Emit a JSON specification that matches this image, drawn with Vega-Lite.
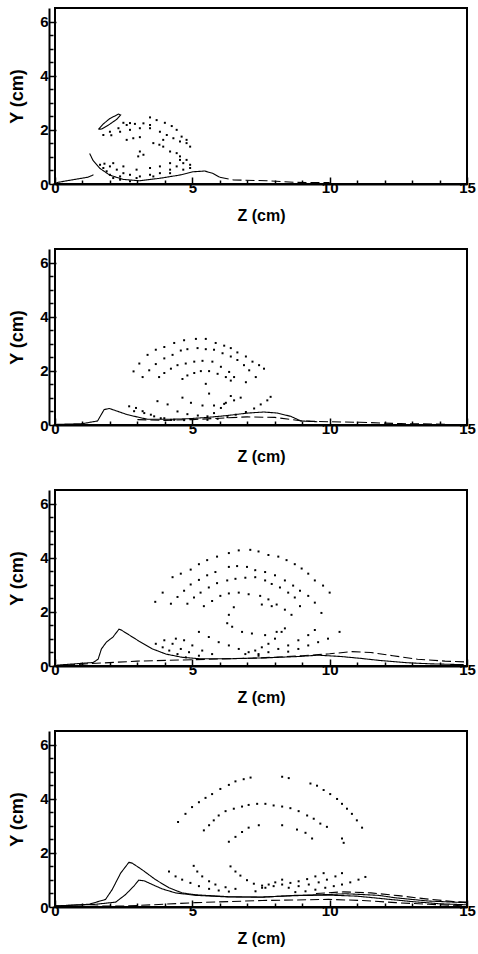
{
  "$schema": "https://vega.github.io/schema/vega-lite/v6.json",
  "padding": {"top": 7, "left": 8, "right": 2, "bottom": 2},
  "background": "white",
  "data": {"values": [
    {"panel":1,"kind":"label","text":"X=66 cm"},
    {"panel":2,"kind":"label","text":"X=97 cm"},
    {"panel":3,"kind":"label","text":"X=142 cm"},
    {"panel":4,"kind":"label","text":"X=188 cm"},

    {"panel":1,"kind":"dot","z":1.76,"y":1.81},{"panel":1,"kind":"dot","z":2.0,"y":1.93},{"panel":1,"kind":"dot","z":2.31,"y":2.06},{"panel":1,"kind":"dot","z":2.61,"y":2.18},{"panel":1,"kind":"dot","z":2.91,"y":2.22},{"panel":1,"kind":"dot","z":3.22,"y":2.24},{"panel":1,"kind":"dot","z":3.46,"y":2.46},{"panel":1,"kind":"dot","z":3.7,"y":2.36},{"panel":1,"kind":"dot","z":4.0,"y":2.26},{"panel":1,"kind":"dot","z":4.25,"y":2.14},{"panel":1,"kind":"dot","z":4.43,"y":2.0},{"panel":1,"kind":"dot","z":4.61,"y":1.75},{"panel":1,"kind":"dot","z":4.79,"y":1.63},{"panel":1,"kind":"dot","z":4.92,"y":1.38},
    {"panel":1,"kind":"dot","z":2.49,"y":2.26},{"panel":1,"kind":"dot","z":2.73,"y":2.25},{"panel":1,"kind":"dot","z":3.46,"y":2.18},
    {"panel":1,"kind":"dot","z":2.05,"y":1.8},{"panel":1,"kind":"dot","z":2.37,"y":1.93},{"panel":1,"kind":"dot","z":2.73,"y":2.0},{"panel":1,"kind":"dot","z":3.09,"y":2.06},{"panel":1,"kind":"dot","z":3.46,"y":2.06},{"panel":1,"kind":"dot","z":3.82,"y":1.93},{"panel":1,"kind":"dot","z":4.07,"y":1.81},{"panel":1,"kind":"dot","z":4.31,"y":1.69},{"panel":1,"kind":"dot","z":4.55,"y":1.57},{"panel":1,"kind":"dot","z":4.79,"y":1.51},
    {"panel":1,"kind":"dot","z":2.61,"y":1.63},{"panel":1,"kind":"dot","z":2.85,"y":1.69},{"panel":1,"kind":"dot","z":3.09,"y":1.73},{"panel":1,"kind":"dot","z":3.58,"y":1.51},{"panel":1,"kind":"dot","z":3.94,"y":1.63},
    {"panel":1,"kind":"dot","z":3.09,"y":1.2},{"panel":1,"kind":"dot","z":3.03,"y":1.02},{"panel":1,"kind":"dot","z":3.22,"y":1.08},
    {"panel":1,"kind":"dot","z":3.8,"y":1.45},{"panel":1,"kind":"dot","z":3.94,"y":1.38},{"panel":1,"kind":"dot","z":4.19,"y":1.2},
    {"panel":1,"kind":"dot","z":1.64,"y":0.71},{"panel":1,"kind":"dot","z":1.76,"y":0.59},{"panel":1,"kind":"dot","z":1.88,"y":0.47},{"panel":1,"kind":"dot","z":2.0,"y":0.34},{"panel":1,"kind":"dot","z":2.12,"y":0.22},{"panel":1,"kind":"dot","z":2.37,"y":0.16},{"panel":1,"kind":"dot","z":2.73,"y":0.1},
    {"panel":1,"kind":"dot","z":1.8,"y":0.75},{"panel":1,"kind":"dot","z":2.0,"y":0.65},{"panel":1,"kind":"dot","z":2.25,"y":0.53},{"panel":1,"kind":"dot","z":2.49,"y":0.4},{"panel":1,"kind":"dot","z":2.73,"y":0.34},{"panel":1,"kind":"dot","z":3.09,"y":0.28},{"panel":1,"kind":"dot","z":3.46,"y":0.34},{"panel":1,"kind":"dot","z":3.82,"y":0.4},{"panel":1,"kind":"dot","z":4.19,"y":0.53},{"panel":1,"kind":"dot","z":4.43,"y":0.65},{"panel":1,"kind":"dot","z":4.67,"y":0.77},{"panel":1,"kind":"dot","z":4.92,"y":0.71},
    {"panel":1,"kind":"dot","z":2.12,"y":0.77},{"panel":1,"kind":"dot","z":2.49,"y":0.65},{"panel":1,"kind":"dot","z":2.97,"y":0.53},{"panel":1,"kind":"dot","z":3.46,"y":0.59},{"panel":1,"kind":"dot","z":3.82,"y":0.65},{"panel":1,"kind":"dot","z":4.19,"y":0.77},{"panel":1,"kind":"dot","z":4.55,"y":0.89},
    {"panel":1,"kind":"dot","z":2.37,"y":0.28},{"panel":1,"kind":"dot","z":2.97,"y":0.22},{"panel":1,"kind":"dot","z":3.58,"y":0.28},{"panel":1,"kind":"dot","z":4.19,"y":0.4},{"panel":1,"kind":"dot","z":4.67,"y":0.53},{"panel":1,"kind":"dot","z":4.92,"y":0.59},
    {"panel":1,"kind":"dot","z":4.43,"y":1.14},{"panel":1,"kind":"dot","z":4.55,"y":1.02},{"panel":1,"kind":"dot","z":4.79,"y":0.89},

    {"panel":1,"kind":"line","series":"1a","dash":"solid","order":1,"z":0.05,"y":0.05},{"panel":1,"kind":"line","series":"1a","dash":"solid","order":2,"z":0.6,"y":0.15},{"panel":1,"kind":"line","series":"1a","dash":"solid","order":3,"z":1.2,"y":0.25},{"panel":1,"kind":"line","series":"1a","dash":"solid","order":4,"z":1.4,"y":0.34},
    {"panel":1,"kind":"line","series":"1b","dash":"solid","order":1,"z":1.26,"y":1.13},{"panel":1,"kind":"line","series":"1b","dash":"solid","order":2,"z":1.38,"y":0.88},{"panel":1,"kind":"line","series":"1b","dash":"solid","order":3,"z":1.63,"y":0.58},{"panel":1,"kind":"line","series":"1b","dash":"solid","order":4,"z":1.99,"y":0.33},{"panel":1,"kind":"line","series":"1b","dash":"solid","order":5,"z":2.48,"y":0.17},{"panel":1,"kind":"line","series":"1b","dash":"solid","order":6,"z":3.08,"y":0.12},{"panel":1,"kind":"line","series":"1b","dash":"solid","order":7,"z":3.81,"y":0.21},{"panel":1,"kind":"line","series":"1b","dash":"solid","order":8,"z":4.54,"y":0.33},{"panel":1,"kind":"line","series":"1b","dash":"solid","order":9,"z":5.02,"y":0.45},{"panel":1,"kind":"line","series":"1b","dash":"solid","order":10,"z":5.45,"y":0.48},{"panel":1,"kind":"line","series":"1b","dash":"solid","order":11,"z":5.75,"y":0.39},{"panel":1,"kind":"line","series":"1b","dash":"solid","order":12,"z":6.0,"y":0.25},
    {"panel":1,"kind":"line","series":"1c","dash":"dashed","order":1,"z":6.0,"y":0.25},{"panel":1,"kind":"line","series":"1c","dash":"dashed","order":2,"z":6.5,"y":0.15},{"panel":1,"kind":"line","series":"1c","dash":"dashed","order":3,"z":7.7,"y":0.12},{"panel":1,"kind":"line","series":"1c","dash":"dashed","order":4,"z":8.8,"y":0.06},{"panel":1,"kind":"line","series":"1c","dash":"dashed","order":5,"z":10.0,"y":0.05},
    {"panel":1,"kind":"line","series":"1d","dash":"solid","order":1,"z":1.58,"y":2.02},{"panel":1,"kind":"line","series":"1d","dash":"solid","order":2,"z":1.76,"y":2.22},{"panel":1,"kind":"line","series":"1d","dash":"solid","order":3,"z":2.0,"y":2.42},{"panel":1,"kind":"line","series":"1d","dash":"solid","order":4,"z":2.31,"y":2.58},{"panel":1,"kind":"line","series":"1d","dash":"solid","order":5,"z":2.39,"y":2.55},{"panel":1,"kind":"line","series":"1d","dash":"solid","order":6,"z":2.25,"y":2.39},{"panel":1,"kind":"line","series":"1d","dash":"solid","order":7,"z":1.98,"y":2.2},{"panel":1,"kind":"line","series":"1d","dash":"solid","order":8,"z":1.7,"y":2.03},{"panel":1,"kind":"line","series":"1d","dash":"solid","order":9,"z":1.58,"y":2.02},

    {"panel":2,"kind":"dot","z":2.86,"y":1.98},{"panel":2,"kind":"dot","z":3.07,"y":2.27},{"panel":2,"kind":"dot","z":3.37,"y":2.59},{"panel":2,"kind":"dot","z":3.67,"y":2.78},{"panel":2,"kind":"dot","z":3.98,"y":2.88},{"panel":2,"kind":"dot","z":4.34,"y":3.03},{"panel":2,"kind":"dot","z":4.7,"y":3.13},{"panel":2,"kind":"dot","z":5.13,"y":3.18},{"panel":2,"kind":"dot","z":5.49,"y":3.18},{"panel":2,"kind":"dot","z":5.85,"y":3.03},{"panel":2,"kind":"dot","z":6.16,"y":2.93},{"panel":2,"kind":"dot","z":6.4,"y":2.84},{"panel":2,"kind":"dot","z":6.64,"y":2.68},{"panel":2,"kind":"dot","z":6.95,"y":2.53},{"panel":2,"kind":"dot","z":7.19,"y":2.34},{"panel":2,"kind":"dot","z":7.43,"y":2.21},{"panel":2,"kind":"dot","z":7.61,"y":2.08},
    {"panel":2,"kind":"dot","z":3.19,"y":1.77},{"panel":2,"kind":"dot","z":3.43,"y":2.02},{"panel":2,"kind":"dot","z":3.67,"y":2.25},{"panel":2,"kind":"dot","z":3.98,"y":2.46},{"panel":2,"kind":"dot","z":4.28,"y":2.59},{"panel":2,"kind":"dot","z":4.58,"y":2.75},{"panel":2,"kind":"dot","z":4.82,"y":2.8},{"panel":2,"kind":"dot","z":5.19,"y":2.84},{"panel":2,"kind":"dot","z":5.49,"y":2.8},{"panel":2,"kind":"dot","z":5.79,"y":2.78},{"panel":2,"kind":"dot","z":6.1,"y":2.65},{"panel":2,"kind":"dot","z":6.4,"y":2.53},{"panel":2,"kind":"dot","z":6.64,"y":2.4},{"panel":2,"kind":"dot","z":6.88,"y":2.21},{"panel":2,"kind":"dot","z":7.07,"y":2.02},{"panel":2,"kind":"dot","z":7.31,"y":1.77},
    {"panel":2,"kind":"dot","z":3.79,"y":1.77},{"panel":2,"kind":"dot","z":3.98,"y":1.92},{"panel":2,"kind":"dot","z":4.22,"y":2.08},{"panel":2,"kind":"dot","z":4.46,"y":2.21},{"panel":2,"kind":"dot","z":4.76,"y":2.27},{"panel":2,"kind":"dot","z":5.07,"y":2.34},{"panel":2,"kind":"dot","z":5.37,"y":2.37},{"panel":2,"kind":"dot","z":5.73,"y":2.34},{"panel":2,"kind":"dot","z":6.04,"y":2.15},{"panel":2,"kind":"dot","z":6.34,"y":1.96},{"panel":2,"kind":"dot","z":6.52,"y":1.77},{"panel":2,"kind":"dot","z":6.95,"y":1.58},
    {"panel":2,"kind":"dot","z":4.64,"y":1.7},{"panel":2,"kind":"dot","z":4.82,"y":1.83},{"panel":2,"kind":"dot","z":5.07,"y":1.92},{"panel":2,"kind":"dot","z":5.31,"y":1.99},{"panel":2,"kind":"dot","z":5.61,"y":1.99},{"panel":2,"kind":"dot","z":5.92,"y":1.89},{"panel":2,"kind":"dot","z":6.22,"y":1.77},{"panel":2,"kind":"dot","z":6.4,"y":1.64},
    {"panel":2,"kind":"dot","z":5.61,"y":1.16},{"panel":2,"kind":"dot","z":5.49,"y":1.52},
    {"panel":2,"kind":"dot","z":2.7,"y":0.69},{"panel":2,"kind":"dot","z":2.95,"y":0.63},{"panel":2,"kind":"dot","z":3.19,"y":0.51},{"panel":2,"kind":"dot","z":3.49,"y":0.38},{"panel":2,"kind":"dot","z":3.85,"y":0.25},{"panel":2,"kind":"dot","z":4.22,"y":0.19},
    {"panel":2,"kind":"dot","z":2.88,"y":0.51},{"panel":2,"kind":"dot","z":3.25,"y":0.44},{"panel":2,"kind":"dot","z":3.61,"y":0.32},{"panel":2,"kind":"dot","z":3.98,"y":0.25},{"panel":2,"kind":"dot","z":4.34,"y":0.19},{"panel":2,"kind":"dot","z":4.7,"y":0.18},
    {"panel":2,"kind":"dot","z":4.64,"y":1.01},{"panel":2,"kind":"dot","z":4.95,"y":0.82},{"panel":2,"kind":"dot","z":5.37,"y":0.72},{"panel":2,"kind":"dot","z":5.79,"y":0.72},{"panel":2,"kind":"dot","z":6.16,"y":0.78},{"panel":2,"kind":"dot","z":6.52,"y":0.91},{"panel":2,"kind":"dot","z":6.76,"y":1.01},
    {"panel":2,"kind":"dot","z":3.73,"y":0.88},{"panel":2,"kind":"dot","z":4.1,"y":0.76},{"panel":2,"kind":"dot","z":4.46,"y":0.5},{"panel":2,"kind":"dot","z":4.82,"y":0.4},{"panel":2,"kind":"dot","z":5.2,"y":0.35},
    {"panel":2,"kind":"dot","z":7.85,"y":1.04},{"panel":2,"kind":"dot","z":7.73,"y":0.91},{"panel":2,"kind":"dot","z":7.49,"y":0.76},{"panel":2,"kind":"dot","z":7.25,"y":0.61},{"panel":2,"kind":"dot","z":6.95,"y":0.48},{"panel":2,"kind":"dot","z":6.58,"y":0.38},{"panel":2,"kind":"dot","z":6.28,"y":0.29},{"panel":2,"kind":"dot","z":5.92,"y":0.23},{"panel":2,"kind":"dot","z":5.55,"y":0.19},
    {"panel":2,"kind":"dot","z":6.4,"y":1.07},{"panel":2,"kind":"dot","z":6.22,"y":0.82},{"panel":2,"kind":"dot","z":6.04,"y":0.63},{"panel":2,"kind":"dot","z":5.79,"y":0.44},{"panel":2,"kind":"dot","z":5.55,"y":0.32},

    {"panel":2,"kind":"line","series":"2a","dash":"solid","order":1,"z":0.0,"y":0.02},{"panel":2,"kind":"line","series":"2a","dash":"solid","order":2,"z":1.0,"y":0.05},{"panel":2,"kind":"line","series":"2a","dash":"solid","order":3,"z":1.55,"y":0.15},{"panel":2,"kind":"line","series":"2a","dash":"solid","order":4,"z":1.79,"y":0.57},{"panel":2,"kind":"line","series":"2a","dash":"solid","order":5,"z":1.98,"y":0.61},{"panel":2,"kind":"line","series":"2a","dash":"solid","order":6,"z":2.64,"y":0.38},{"panel":2,"kind":"line","series":"2a","dash":"solid","order":7,"z":3.37,"y":0.21},{"panel":2,"kind":"line","series":"2a","dash":"solid","order":8,"z":4.1,"y":0.21},{"panel":2,"kind":"line","series":"2a","dash":"solid","order":9,"z":4.82,"y":0.23},{"panel":2,"kind":"line","series":"2a","dash":"solid","order":10,"z":5.55,"y":0.28},{"panel":2,"kind":"line","series":"2a","dash":"solid","order":11,"z":6.28,"y":0.35},{"panel":2,"kind":"line","series":"2a","dash":"solid","order":12,"z":7.0,"y":0.44},{"panel":2,"kind":"line","series":"2a","dash":"solid","order":13,"z":7.61,"y":0.48},{"panel":2,"kind":"line","series":"2a","dash":"solid","order":14,"z":8.1,"y":0.44},{"panel":2,"kind":"line","series":"2a","dash":"solid","order":15,"z":8.58,"y":0.32},{"panel":2,"kind":"line","series":"2a","dash":"solid","order":16,"z":8.95,"y":0.15},{"panel":2,"kind":"line","series":"2a","dash":"solid","order":17,"z":9.55,"y":0.12},
    {"panel":2,"kind":"line","series":"2b","dash":"dashed","order":1,"z":3.0,"y":0.2},{"panel":2,"kind":"line","series":"2b","dash":"dashed","order":2,"z":4.0,"y":0.17},{"panel":2,"kind":"line","series":"2b","dash":"dashed","order":3,"z":5.0,"y":0.2},{"panel":2,"kind":"line","series":"2b","dash":"dashed","order":4,"z":6.0,"y":0.25},{"panel":2,"kind":"line","series":"2b","dash":"dashed","order":5,"z":7.0,"y":0.3},{"panel":2,"kind":"line","series":"2b","dash":"dashed","order":6,"z":8.0,"y":0.28},{"panel":2,"kind":"line","series":"2b","dash":"dashed","order":7,"z":9.0,"y":0.15},{"panel":2,"kind":"line","series":"2b","dash":"dashed","order":8,"z":10.0,"y":0.12},{"panel":2,"kind":"line","series":"2b","dash":"dashed","order":9,"z":11.1,"y":0.1},{"panel":2,"kind":"line","series":"2b","dash":"dashed","order":10,"z":12.6,"y":0.05},{"panel":2,"kind":"line","series":"2b","dash":"dashed","order":11,"z":14.2,"y":0.03},

    {"panel":3,"kind":"dot","z":3.65,"y":2.37},{"panel":3,"kind":"dot","z":3.92,"y":2.71},{"panel":3,"kind":"dot","z":4.28,"y":3.28},{"panel":3,"kind":"dot","z":4.58,"y":3.41},{"panel":3,"kind":"dot","z":4.94,"y":3.56},{"panel":3,"kind":"dot","z":5.24,"y":3.76},{"panel":3,"kind":"dot","z":5.54,"y":3.91},{"panel":3,"kind":"dot","z":5.9,"y":4.04},{"panel":3,"kind":"dot","z":6.33,"y":4.17},{"panel":3,"kind":"dot","z":6.69,"y":4.27},{"panel":3,"kind":"dot","z":7.11,"y":4.29},{"panel":3,"kind":"dot","z":7.41,"y":4.23},{"panel":3,"kind":"dot","z":7.77,"y":4.1},{"panel":3,"kind":"dot","z":8.13,"y":4.04},{"panel":3,"kind":"dot","z":8.43,"y":3.91},{"panel":3,"kind":"dot","z":8.73,"y":3.76},{"panel":3,"kind":"dot","z":8.98,"y":3.6},{"panel":3,"kind":"dot","z":9.22,"y":3.41},{"panel":3,"kind":"dot","z":9.46,"y":3.16},{"panel":3,"kind":"dot","z":9.76,"y":2.97},{"panel":3,"kind":"dot","z":10.0,"y":2.71},
    {"panel":3,"kind":"dot","z":4.22,"y":2.3},{"panel":3,"kind":"dot","z":4.46,"y":2.55},{"panel":3,"kind":"dot","z":4.7,"y":2.78},{"panel":3,"kind":"dot","z":4.94,"y":3.01},{"panel":3,"kind":"dot","z":5.24,"y":3.18},{"panel":3,"kind":"dot","z":5.54,"y":3.35},{"panel":3,"kind":"dot","z":5.84,"y":3.47},{"panel":3,"kind":"dot","z":6.33,"y":3.66},{"panel":3,"kind":"dot","z":6.63,"y":3.69},{"panel":3,"kind":"dot","z":6.99,"y":3.66},{"panel":3,"kind":"dot","z":7.29,"y":3.54},{"panel":3,"kind":"dot","z":7.65,"y":3.47},{"panel":3,"kind":"dot","z":8.01,"y":3.35},{"panel":3,"kind":"dot","z":8.37,"y":3.16},{"panel":3,"kind":"dot","z":8.67,"y":2.97},{"panel":3,"kind":"dot","z":8.92,"y":2.78},{"panel":3,"kind":"dot","z":9.22,"y":2.59},{"panel":3,"kind":"dot","z":9.46,"y":2.34},{"panel":3,"kind":"dot","z":9.7,"y":1.96},
    {"panel":3,"kind":"dot","z":4.82,"y":2.3},{"panel":3,"kind":"dot","z":5.06,"y":2.53},{"panel":3,"kind":"dot","z":5.3,"y":2.71},{"panel":3,"kind":"dot","z":5.6,"y":2.9},{"panel":3,"kind":"dot","z":5.9,"y":3.06},{"panel":3,"kind":"dot","z":6.27,"y":3.16},{"panel":3,"kind":"dot","z":6.57,"y":3.22},{"panel":3,"kind":"dot","z":6.93,"y":3.26},{"panel":3,"kind":"dot","z":7.29,"y":3.28},{"panel":3,"kind":"dot","z":7.65,"y":3.16},{"panel":3,"kind":"dot","z":7.89,"y":3.03},{"panel":3,"kind":"dot","z":8.19,"y":2.9},{"panel":3,"kind":"dot","z":8.49,"y":2.71},{"panel":3,"kind":"dot","z":8.73,"y":2.53},{"panel":3,"kind":"dot","z":8.92,"y":2.21},
    {"panel":3,"kind":"dot","z":5.42,"y":2.21},{"panel":3,"kind":"dot","z":5.72,"y":2.4},{"panel":3,"kind":"dot","z":6.02,"y":2.59},{"panel":3,"kind":"dot","z":6.33,"y":2.68},{"panel":3,"kind":"dot","z":6.69,"y":2.71},{"panel":3,"kind":"dot","z":7.05,"y":2.65},{"panel":3,"kind":"dot","z":7.47,"y":2.59},{"panel":3,"kind":"dot","z":7.77,"y":2.46},{"panel":3,"kind":"dot","z":8.07,"y":2.27},{"panel":3,"kind":"dot","z":8.37,"y":2.08},{"panel":3,"kind":"dot","z":8.61,"y":1.89},
    {"panel":3,"kind":"dot","z":6.51,"y":2.17},{"panel":3,"kind":"dot","z":6.33,"y":1.89},{"panel":3,"kind":"dot","z":6.27,"y":1.58},{"panel":3,"kind":"dot","z":6.45,"y":1.45},{"panel":3,"kind":"dot","z":6.81,"y":1.26},{"panel":3,"kind":"dot","z":7.17,"y":1.2},{"panel":3,"kind":"dot","z":7.65,"y":1.14},{"panel":3,"kind":"dot","z":8.07,"y":1.26},{"panel":3,"kind":"dot","z":8.37,"y":1.39},{"panel":3,"kind":"dot","z":7.53,"y":2.27},{"panel":3,"kind":"dot","z":7.89,"y":2.21},
    {"panel":3,"kind":"dot","z":3.67,"y":0.82},{"panel":3,"kind":"dot","z":3.92,"y":0.69},{"panel":3,"kind":"dot","z":4.16,"y":0.57},{"panel":3,"kind":"dot","z":4.46,"y":0.44},{"panel":3,"kind":"dot","z":4.76,"y":0.32},
    {"panel":3,"kind":"dot","z":3.98,"y":0.95},{"panel":3,"kind":"dot","z":4.28,"y":0.82},{"panel":3,"kind":"dot","z":4.58,"y":0.63},{"panel":3,"kind":"dot","z":4.88,"y":0.51},{"panel":3,"kind":"dot","z":5.24,"y":0.38},
    {"panel":3,"kind":"dot","z":4.4,"y":1.01},{"panel":3,"kind":"dot","z":4.7,"y":0.95},{"panel":3,"kind":"dot","z":5.0,"y":0.76},{"panel":3,"kind":"dot","z":5.36,"y":0.57},{"panel":3,"kind":"dot","z":5.72,"y":0.44},
    {"panel":3,"kind":"dot","z":5.24,"y":1.26},{"panel":3,"kind":"dot","z":5.6,"y":1.07},{"panel":3,"kind":"dot","z":5.96,"y":0.88},{"panel":3,"kind":"dot","z":6.33,"y":0.76},{"panel":3,"kind":"dot","z":6.69,"y":0.63},{"panel":3,"kind":"dot","z":7.05,"y":0.51},{"panel":3,"kind":"dot","z":7.41,"y":0.44},
    {"panel":3,"kind":"dot","z":9.46,"y":1.33},{"panel":3,"kind":"dot","z":9.22,"y":1.14},{"panel":3,"kind":"dot","z":8.86,"y":0.95},{"panel":3,"kind":"dot","z":8.49,"y":0.76},{"panel":3,"kind":"dot","z":8.13,"y":0.63},{"panel":3,"kind":"dot","z":7.77,"y":0.51},{"panel":3,"kind":"dot","z":7.41,"y":0.38},
    {"panel":3,"kind":"dot","z":10.36,"y":1.26},{"panel":3,"kind":"dot","z":9.94,"y":1.01},{"panel":3,"kind":"dot","z":9.58,"y":0.88},{"panel":3,"kind":"dot","z":9.22,"y":0.76},{"panel":3,"kind":"dot","z":8.86,"y":0.63},{"panel":3,"kind":"dot","z":8.49,"y":0.53},
    {"panel":3,"kind":"dot","z":8.25,"y":1.26},{"panel":3,"kind":"dot","z":8.01,"y":1.01},{"panel":3,"kind":"dot","z":7.77,"y":0.82},{"panel":3,"kind":"dot","z":7.53,"y":0.69},{"panel":3,"kind":"dot","z":7.29,"y":0.57},{"panel":3,"kind":"dot","z":6.93,"y":0.44},

    {"panel":3,"kind":"line","series":"3a","dash":"solid","order":1,"z":0.06,"y":0.03},{"panel":3,"kind":"line","series":"3a","dash":"solid","order":2,"z":1.39,"y":0.13},{"panel":3,"kind":"line","series":"3a","dash":"solid","order":3,"z":1.57,"y":0.25},{"panel":3,"kind":"line","series":"3a","dash":"solid","order":4,"z":1.69,"y":0.63},{"panel":3,"kind":"line","series":"3a","dash":"solid","order":5,"z":1.87,"y":0.88},{"panel":3,"kind":"line","series":"3a","dash":"solid","order":6,"z":2.11,"y":1.07},{"panel":3,"kind":"line","series":"3a","dash":"solid","order":7,"z":2.33,"y":1.36},{"panel":3,"kind":"line","series":"3a","dash":"solid","order":8,"z":2.41,"y":1.33},{"panel":3,"kind":"line","series":"3a","dash":"solid","order":9,"z":2.71,"y":1.14},{"panel":3,"kind":"line","series":"3a","dash":"solid","order":10,"z":3.07,"y":0.91},{"panel":3,"kind":"line","series":"3a","dash":"solid","order":11,"z":3.55,"y":0.63},{"panel":3,"kind":"line","series":"3a","dash":"solid","order":12,"z":4.04,"y":0.44},{"panel":3,"kind":"line","series":"3a","dash":"solid","order":13,"z":4.64,"y":0.32},{"panel":3,"kind":"line","series":"3a","dash":"solid","order":14,"z":5.24,"y":0.27},{"panel":3,"kind":"line","series":"3a","dash":"solid","order":15,"z":6.45,"y":0.27},{"panel":3,"kind":"line","series":"3a","dash":"solid","order":16,"z":7.65,"y":0.3},{"panel":3,"kind":"line","series":"3a","dash":"solid","order":17,"z":8.86,"y":0.35},{"panel":3,"kind":"line","series":"3a","dash":"solid","order":18,"z":9.58,"y":0.4},{"panel":3,"kind":"line","series":"3a","dash":"solid","order":19,"z":10.42,"y":0.35},{"panel":3,"kind":"line","series":"3a","dash":"solid","order":20,"z":11.14,"y":0.28},{"panel":3,"kind":"line","series":"3a","dash":"solid","order":21,"z":11.87,"y":0.2},{"panel":3,"kind":"line","series":"3a","dash":"solid","order":22,"z":12.83,"y":0.12},{"panel":3,"kind":"line","series":"3a","dash":"solid","order":23,"z":13.67,"y":0.08},{"panel":3,"kind":"line","series":"3a","dash":"solid","order":24,"z":14.88,"y":0.05},
    {"panel":3,"kind":"line","series":"3b","dash":"dashed","order":1,"z":0.4,"y":0.03},{"panel":3,"kind":"line","series":"3b","dash":"dashed","order":2,"z":1.5,"y":0.1},{"panel":3,"kind":"line","series":"3b","dash":"dashed","order":3,"z":3.0,"y":0.18},{"panel":3,"kind":"line","series":"3b","dash":"dashed","order":4,"z":4.5,"y":0.22},{"panel":3,"kind":"line","series":"3b","dash":"dashed","order":5,"z":6.0,"y":0.26},{"panel":3,"kind":"line","series":"3b","dash":"dashed","order":6,"z":7.5,"y":0.3},{"panel":3,"kind":"line","series":"3b","dash":"dashed","order":7,"z":9.0,"y":0.38},{"panel":3,"kind":"line","series":"3b","dash":"dashed","order":8,"z":10.0,"y":0.45},{"panel":3,"kind":"line","series":"3b","dash":"dashed","order":9,"z":10.8,"y":0.53},{"panel":3,"kind":"line","series":"3b","dash":"dashed","order":10,"z":11.5,"y":0.5},{"panel":3,"kind":"line","series":"3b","dash":"dashed","order":11,"z":12.3,"y":0.38},{"panel":3,"kind":"line","series":"3b","dash":"dashed","order":12,"z":13.2,"y":0.25},{"panel":3,"kind":"line","series":"3b","dash":"dashed","order":13,"z":14.2,"y":0.18},{"panel":3,"kind":"line","series":"3b","dash":"dashed","order":14,"z":15.0,"y":0.15},

    {"panel":4,"kind":"dot","z":4.48,"y":3.14},{"panel":4,"kind":"dot","z":4.75,"y":3.44},{"panel":4,"kind":"dot","z":4.99,"y":3.69},{"panel":4,"kind":"dot","z":5.24,"y":3.87},{"panel":4,"kind":"dot","z":5.48,"y":4.03},{"panel":4,"kind":"dot","z":5.72,"y":4.17},{"panel":4,"kind":"dot","z":6.02,"y":4.36},{"panel":4,"kind":"dot","z":6.33,"y":4.51},{"panel":4,"kind":"dot","z":6.57,"y":4.64},{"panel":4,"kind":"dot","z":6.87,"y":4.72},{"panel":4,"kind":"dot","z":7.12,"y":4.78},{"panel":4,"kind":"dot","z":8.27,"y":4.81},{"panel":4,"kind":"dot","z":8.51,"y":4.76},{"panel":4,"kind":"dot","z":9.3,"y":4.56},{"panel":4,"kind":"dot","z":9.54,"y":4.48},{"panel":4,"kind":"dot","z":9.78,"y":4.32},{"panel":4,"kind":"dot","z":10.02,"y":4.17},{"panel":4,"kind":"dot","z":10.27,"y":3.99},{"panel":4,"kind":"dot","z":10.45,"y":3.81},{"panel":4,"kind":"dot","z":10.63,"y":3.63},{"panel":4,"kind":"dot","z":10.81,"y":3.44},{"panel":4,"kind":"dot","z":10.99,"y":3.2},{"panel":4,"kind":"dot","z":11.18,"y":2.93},
    {"panel":4,"kind":"dot","z":5.42,"y":2.83},{"panel":4,"kind":"dot","z":5.61,"y":3.02},{"panel":4,"kind":"dot","z":5.78,"y":3.2},{"panel":4,"kind":"dot","z":5.96,"y":3.38},{"panel":4,"kind":"dot","z":6.21,"y":3.54},{"panel":4,"kind":"dot","z":6.51,"y":3.63},{"panel":4,"kind":"dot","z":6.81,"y":3.71},{"panel":4,"kind":"dot","z":7.05,"y":3.77},{"panel":4,"kind":"dot","z":7.36,"y":3.81},{"panel":4,"kind":"dot","z":7.66,"y":3.81},{"panel":4,"kind":"dot","z":7.96,"y":3.75},{"panel":4,"kind":"dot","z":8.27,"y":3.71},{"panel":4,"kind":"dot","z":8.57,"y":3.65},{"panel":4,"kind":"dot","z":8.87,"y":3.54},{"panel":4,"kind":"dot","z":9.18,"y":3.38},{"panel":4,"kind":"dot","z":9.42,"y":3.26},{"panel":4,"kind":"dot","z":9.66,"y":3.08},{"panel":4,"kind":"dot","z":9.9,"y":2.96},
    {"panel":4,"kind":"dot","z":6.33,"y":2.41},{"panel":4,"kind":"dot","z":6.57,"y":2.59},{"panel":4,"kind":"dot","z":6.81,"y":2.77},{"panel":4,"kind":"dot","z":7.05,"y":2.93},{"panel":4,"kind":"dot","z":7.42,"y":3.02},{"panel":4,"kind":"dot","z":8.27,"y":3.02},{"panel":4,"kind":"dot","z":8.81,"y":2.86},{"panel":4,"kind":"dot","z":9.12,"y":2.74},{"panel":4,"kind":"dot","z":9.36,"y":2.53},{"panel":4,"kind":"dot","z":10.45,"y":2.53},{"panel":4,"kind":"dot","z":10.51,"y":2.37},
    {"panel":4,"kind":"dot","z":4.15,"y":1.31},{"panel":4,"kind":"dot","z":4.39,"y":1.13},{"panel":4,"kind":"dot","z":4.63,"y":1.01},{"panel":4,"kind":"dot","z":4.93,"y":0.89},{"panel":4,"kind":"dot","z":5.24,"y":0.77},{"panel":4,"kind":"dot","z":5.61,"y":0.67},{"panel":4,"kind":"dot","z":5.96,"y":0.61},{"panel":4,"kind":"dot","z":6.33,"y":0.57},
    {"panel":4,"kind":"dot","z":5.05,"y":1.52},{"panel":4,"kind":"dot","z":5.18,"y":1.31},{"panel":4,"kind":"dot","z":5.36,"y":1.13},{"panel":4,"kind":"dot","z":5.61,"y":0.95},{"panel":4,"kind":"dot","z":5.84,"y":0.83},{"panel":4,"kind":"dot","z":6.21,"y":0.73},{"panel":4,"kind":"dot","z":6.57,"y":0.67},
    {"panel":4,"kind":"dot","z":6.39,"y":1.5},{"panel":4,"kind":"dot","z":6.57,"y":1.31},{"panel":4,"kind":"dot","z":6.75,"y":1.16},{"panel":4,"kind":"dot","z":6.99,"y":0.99},{"panel":4,"kind":"dot","z":7.24,"y":0.86},{"panel":4,"kind":"dot","z":7.54,"y":0.79},
    {"panel":4,"kind":"dot","z":8.27,"y":1.01},{"panel":4,"kind":"dot","z":8.02,"y":0.91},{"panel":4,"kind":"dot","z":7.78,"y":0.83},{"panel":4,"kind":"dot","z":7.54,"y":0.71},{"panel":4,"kind":"dot","z":7.3,"y":0.58},
    {"panel":4,"kind":"dot","z":9.78,"y":1.25},{"panel":4,"kind":"dot","z":9.48,"y":1.13},{"panel":4,"kind":"dot","z":9.18,"y":1.03},{"panel":4,"kind":"dot","z":8.87,"y":0.95},{"panel":4,"kind":"dot","z":8.57,"y":0.89},{"panel":4,"kind":"dot","z":8.27,"y":0.83},{"panel":4,"kind":"dot","z":7.96,"y":0.77},{"panel":4,"kind":"dot","z":7.66,"y":0.71},
    {"panel":4,"kind":"dot","z":10.45,"y":1.25},{"panel":4,"kind":"dot","z":10.21,"y":1.13},{"panel":4,"kind":"dot","z":9.9,"y":1.01},{"panel":4,"kind":"dot","z":9.6,"y":0.91},{"panel":4,"kind":"dot","z":9.24,"y":0.83},{"panel":4,"kind":"dot","z":8.87,"y":0.77},{"panel":4,"kind":"dot","z":8.51,"y":0.71},
    {"panel":4,"kind":"dot","z":11.3,"y":1.11},{"panel":4,"kind":"dot","z":11.05,"y":1.01},{"panel":4,"kind":"dot","z":10.75,"y":0.91},{"panel":4,"kind":"dot","z":10.45,"y":0.83},{"panel":4,"kind":"dot","z":10.15,"y":0.77},{"panel":4,"kind":"dot","z":9.84,"y":0.71},{"panel":4,"kind":"dot","z":9.48,"y":0.64},{"panel":4,"kind":"dot","z":9.12,"y":0.58},{"panel":4,"kind":"dot","z":8.75,"y":0.55},

    {"panel":4,"kind":"line","series":"4a","dash":"solid","order":1,"z":0.02,"y":0.04},{"panel":4,"kind":"line","series":"4a","dash":"solid","order":2,"z":1.24,"y":0.1},{"panel":4,"kind":"line","series":"4a","dash":"solid","order":3,"z":1.84,"y":0.28},{"panel":4,"kind":"line","series":"4a","dash":"solid","order":4,"z":2.08,"y":0.64},{"panel":4,"kind":"line","series":"4a","dash":"solid","order":5,"z":2.39,"y":1.25},{"panel":4,"kind":"line","series":"4a","dash":"solid","order":6,"z":2.69,"y":1.65},{"panel":4,"kind":"line","series":"4a","dash":"solid","order":7,"z":2.81,"y":1.62},{"panel":4,"kind":"line","series":"4a","dash":"solid","order":8,"z":3.18,"y":1.37},{"panel":4,"kind":"line","series":"4a","dash":"solid","order":9,"z":3.66,"y":1.01},{"panel":4,"kind":"line","series":"4a","dash":"solid","order":10,"z":4.15,"y":0.71},{"panel":4,"kind":"line","series":"4a","dash":"solid","order":11,"z":4.63,"y":0.52},{"panel":4,"kind":"line","series":"4a","dash":"solid","order":12,"z":5.12,"y":0.45},{"panel":4,"kind":"line","series":"4a","dash":"solid","order":13,"z":6.33,"y":0.38},{"panel":4,"kind":"line","series":"4a","dash":"solid","order":14,"z":7.54,"y":0.36},{"panel":4,"kind":"line","series":"4a","dash":"solid","order":15,"z":8.75,"y":0.43},{"panel":4,"kind":"line","series":"4a","dash":"solid","order":16,"z":9.96,"y":0.46},{"panel":4,"kind":"line","series":"4a","dash":"solid","order":17,"z":10.57,"y":0.49},{"panel":4,"kind":"line","series":"4a","dash":"solid","order":18,"z":11.18,"y":0.46},{"panel":4,"kind":"line","series":"4a","dash":"solid","order":19,"z":11.78,"y":0.43},{"panel":4,"kind":"line","series":"4a","dash":"solid","order":20,"z":12.39,"y":0.34},{"panel":4,"kind":"line","series":"4a","dash":"solid","order":21,"z":13.6,"y":0.22},{"panel":4,"kind":"line","series":"4a","dash":"solid","order":22,"z":14.99,"y":0.16},
    {"panel":4,"kind":"line","series":"4b","dash":"solid","order":1,"z":0.02,"y":0.04},{"panel":4,"kind":"line","series":"4b","dash":"solid","order":2,"z":1.48,"y":0.1},{"panel":4,"kind":"line","series":"4b","dash":"solid","order":3,"z":2.21,"y":0.18},{"panel":4,"kind":"line","series":"4b","dash":"solid","order":4,"z":2.57,"y":0.46},{"panel":4,"kind":"line","series":"4b","dash":"solid","order":5,"z":2.87,"y":0.77},{"panel":4,"kind":"line","series":"4b","dash":"solid","order":6,"z":3.05,"y":0.99},{"panel":4,"kind":"line","series":"4b","dash":"solid","order":7,"z":3.24,"y":0.97},{"panel":4,"kind":"line","series":"4b","dash":"solid","order":8,"z":3.54,"y":0.83},{"panel":4,"kind":"line","series":"4b","dash":"solid","order":9,"z":3.9,"y":0.67},{"panel":4,"kind":"line","series":"4b","dash":"solid","order":10,"z":4.39,"y":0.52},{"panel":4,"kind":"line","series":"4b","dash":"solid","order":11,"z":5.12,"y":0.43},{"panel":4,"kind":"line","series":"4b","dash":"solid","order":12,"z":6.33,"y":0.37},{"panel":4,"kind":"line","series":"4b","dash":"solid","order":13,"z":7.54,"y":0.37},{"panel":4,"kind":"line","series":"4b","dash":"solid","order":14,"z":8.75,"y":0.42},{"panel":4,"kind":"line","series":"4b","dash":"solid","order":15,"z":9.96,"y":0.44},{"panel":4,"kind":"line","series":"4b","dash":"solid","order":16,"z":11.0,"y":0.4},{"panel":4,"kind":"line","series":"4b","dash":"solid","order":17,"z":12.0,"y":0.3},{"panel":4,"kind":"line","series":"4b","dash":"solid","order":18,"z":13.0,"y":0.2},{"panel":4,"kind":"line","series":"4b","dash":"solid","order":19,"z":14.0,"y":0.12},{"panel":4,"kind":"line","series":"4b","dash":"solid","order":20,"z":15.0,"y":0.08},
    {"panel":4,"kind":"line","series":"4c","dash":"dashed","order":1,"z":0.3,"y":0.02},{"panel":4,"kind":"line","series":"4c","dash":"dashed","order":2,"z":2.69,"y":0.04},{"panel":4,"kind":"line","series":"4c","dash":"dashed","order":3,"z":5.12,"y":0.16},{"panel":4,"kind":"line","series":"4c","dash":"dashed","order":4,"z":7.54,"y":0.24},{"panel":4,"kind":"line","series":"4c","dash":"dashed","order":5,"z":9.96,"y":0.28},{"panel":4,"kind":"line","series":"4c","dash":"dashed","order":6,"z":11.2,"y":0.24},{"panel":4,"kind":"line","series":"4c","dash":"dashed","order":7,"z":12.4,"y":0.16},{"panel":4,"kind":"line","series":"4c","dash":"dashed","order":8,"z":13.6,"y":0.1},{"panel":4,"kind":"line","series":"4c","dash":"dashed","order":9,"z":15.0,"y":0.04},
    {"panel":4,"kind":"line","series":"4d","dash":"dashed","order":1,"z":9.5,"y":0.5},{"panel":4,"kind":"line","series":"4d","dash":"dashed","order":2,"z":10.5,"y":0.56},{"panel":4,"kind":"line","series":"4d","dash":"dashed","order":3,"z":11.5,"y":0.52},{"panel":4,"kind":"line","series":"4d","dash":"dashed","order":4,"z":12.5,"y":0.42},{"panel":4,"kind":"line","series":"4d","dash":"dashed","order":5,"z":13.5,"y":0.3},{"panel":4,"kind":"line","series":"4d","dash":"dashed","order":6,"z":14.5,"y":0.2},{"panel":4,"kind":"line","series":"4d","dash":"dashed","order":7,"z":15.0,"y":0.18}
  ]},
  "facet": {"row": {"field": "panel", "type": "ordinal", "header": {"labels": false, "title": null}}},
  "spacing": {"row": 24},
  "resolve": {"axis": {"x": "independent"}},
  "spec": {
    "width": 412,
    "height": 176,
    "encoding": {
      "x": {"field": "z", "type": "quantitative", "scale": {"domain": [0, 15], "nice": false},
        "axis": {"title": "Z (cm)", "values": [0,1,2,3,4,5,6,7,8,9,10,11,12,13,14,15],
          "labelExpr": "datum.value % 5 === 0 ? format(datum.value, 'd') : ''",
          "tickSize": {"condition": {"test": "datum.value % 5 === 0", "value": -7}, "value": -4},
          "labelPadding": 3, "labelOverlap": false, "labelFlush": false, "titlePadding": 9}},
      "y": {"field": "y", "type": "quantitative", "scale": {"domain": [0, 6.5], "nice": false},
        "axis": {"title": "Y (cm)", "titleFontSize": 18, "values": [0,0.5,1,1.5,2,2.5,3,3.5,4,4.5,5,5.5,6],
          "labelExpr": "datum.value % 2 === 0 ? format(datum.value, 'd') : ''",
          "tickSize": {"condition": {"test": "datum.value % 2 === 0", "value": -7}, "value": -4},
          "labelPadding": 8, "labelOverlap": false, "labelFlush": false, "titlePadding": 13}}
    },
    "layer": [
      {
        "transform": [{"filter": "datum.kind === 'line'"}],
        "mark": {"type": "line", "color": "black", "strokeWidth": 1.1, "clip": true},
        "encoding": {
          "detail": {"field": "series"},
          "order": {"field": "order"},
          "strokeDash": {"field": "dash", "type": "nominal", "scale": {"domain": ["solid", "dashed"], "range": [[1, 0], [9, 4]]}, "legend": null}
        }
      },
      {
        "transform": [{"filter": "datum.kind === 'dot'"}],
        "mark": {"type": "point", "shape": "square", "filled": true, "color": "black", "size": 4, "opacity": 1},
        "encoding": {}
      },
      {
        "transform": [{"filter": "datum.kind === 'label'"}],
        "mark": {"type": "text", "font": "Liberation Sans", "fontWeight": "bold", "fontSize": 10.5, "color": "black", "align": "center"},
        "encoding": {
          "x": {"datum": 13},
          "y": {"datum": 5.35},
          "text": {"field": "text"}
        }
      }
    ]
  },
  "config": {
    "view": {"stroke": "black", "strokeWidth": 2},
    "axis": {"domainColor": "black", "domainWidth": 2, "tickColor": "black", "tickWidth": 1.5, "grid": false, "labelOverlap": false,
      "labelFont": "Liberation Sans", "labelFontWeight": "bold", "labelFontSize": 15, "labelColor": "black",
      "titleFont": "Liberation Sans", "titleFontWeight": "bold", "titleFontSize": 16, "titleColor": "black"}
  }
}
